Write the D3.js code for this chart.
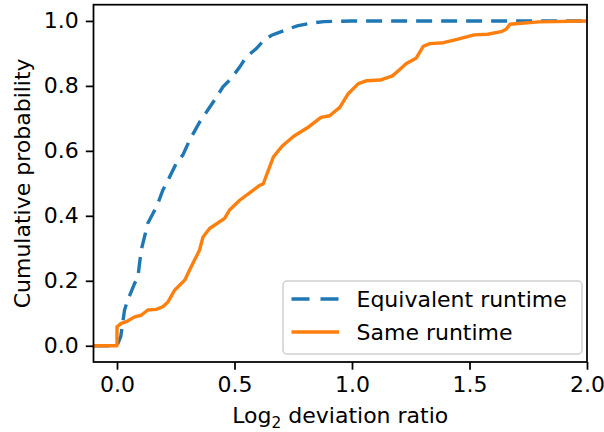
<!DOCTYPE html>
<html>
<head>
<meta charset="utf-8">
<script src="https://cdn.jsdelivr.net/npm/d3@7"></script>
<style>
  html, body { margin: 0; padding: 0; background: #fff; }
  svg { display: block; }
  text { font-family: "DejaVu Sans", sans-serif; fill: #000; }
</style>
</head>
<body>
<svg id="chart" width="604" height="432"></svg>
<script>
// ---- data ----
const equivX = [-0.1, 0.0, 0.016, 0.032, 0.046, 0.075, 0.089, 0.103, 0.117, 0.131, 0.153, 0.174, 0.195, 0.224, 0.252, 0.28, 0.309, 0.352, 0.415, 0.451, 0.486, 0.522, 0.55, 0.593, 0.622, 0.658, 0.709, 0.767, 0.824, 0.88, 1.0, 1.5, 2.0];
const equivY = [0.0, 0.0, 0.028, 0.11, 0.141, 0.192, 0.212, 0.294, 0.335, 0.377, 0.407, 0.438, 0.479, 0.52, 0.561, 0.587, 0.633, 0.689, 0.756, 0.797, 0.823, 0.858, 0.889, 0.915, 0.938, 0.956, 0.97, 0.985, 0.993, 0.998, 1.0, 1.0, 1.0];

const sameX = [-0.1, 0.0, 0.0, 0.018, 0.04, 0.075, 0.103, 0.131, 0.167, 0.195, 0.217, 0.245, 0.288, 0.309, 0.33, 0.351, 0.366, 0.394, 0.458, 0.479, 0.522, 0.607, 0.622, 0.666, 0.702, 0.752, 0.81, 0.868, 0.905, 0.948, 0.984, 1.027, 1.063, 1.12, 1.172, 1.201, 1.23, 1.274, 1.303, 1.332, 1.389, 1.447, 1.52, 1.577, 1.635, 1.657, 1.672, 1.722, 1.794, 2.0];
const sameY = [0.0, 0.0, 0.058, 0.069, 0.074, 0.089, 0.094, 0.11, 0.112, 0.12, 0.135, 0.171, 0.202, 0.233, 0.264, 0.294, 0.335, 0.361, 0.392, 0.418, 0.448, 0.494, 0.498, 0.582, 0.614, 0.645, 0.671, 0.703, 0.708, 0.734, 0.776, 0.807, 0.816, 0.818, 0.831, 0.849, 0.868, 0.886, 0.922, 0.93, 0.933, 0.943, 0.957, 0.959, 0.967, 0.975, 0.99, 0.993, 0.997, 1.0];

const xTicks = [0.0, 0.5, 1.0, 1.5, 2.0];
const yTicks = [0.0, 0.2, 0.4, 0.6, 0.8, 1.0];
const seriesNames = ["Equivalent runtime", "Same runtime"];
const seriesColors = ["#1f77b4", "#ff7f0e"];

// ---- layout ----
const svg = d3.select("#chart");
const mLeft = 93.5, mRight = 587, mTop = 4.7, mBottom = 362;
const x = d3.scaleLinear().domain([-0.1, 2.0]).range([mLeft, mRight]);
const y = d3.scaleLinear().domain([-0.05, 1.05]).range([mBottom, mTop]);
const FS = 22;

svg.append("clipPath").attr("id", "clip")
  .append("rect").attr("x", mLeft).attr("y", mTop).attr("width", mRight - mLeft).attr("height", mBottom - mTop);

const line = d3.line().x(d => x(d[0])).y(d => y(d[1])).curve(d3.curveLinear);

const plot = svg.append("g").attr("clip-path", "url(#clip)");
plot.append("path")
  .datum(equivX.map((v, i) => [v, equivY[i]]))
  .attr("d", line).attr("fill", "none")
  .attr("stroke", seriesColors[0]).attr("stroke-width", 3.4)
  .attr("stroke-dasharray", "16,9");
plot.append("path")
  .datum(sameX.map((v, i) => [v, sameY[i]]))
  .attr("d", line).attr("fill", "none")
  .attr("stroke", seriesColors[1]).attr("stroke-width", 3.4)
  .attr("stroke-linejoin", "round");

// axes
const xAxis = d3.axisBottom(x).tickValues(xTicks).tickFormat(d3.format(".1f")).tickSize(7.7).tickPadding(7);
const yAxis = d3.axisLeft(y).tickValues(yTicks).tickFormat(d3.format(".1f")).tickSize(7.7).tickPadding(7);

const gx = svg.append("g").attr("transform", `translate(0,${mBottom})`).call(xAxis);
const gy = svg.append("g").attr("transform", `translate(${mLeft},0)`).call(yAxis);
[gx, gy].forEach(g => {
  g.select(".domain").remove();
  g.selectAll(".tick line").attr("stroke", "#000").attr("stroke-width", 1.76);
  g.selectAll(".tick text").attr("font-size", FS).attr("font-family", "DejaVu Sans").attr("fill", "#000");
});

// frame
svg.append("rect").attr("x", mLeft).attr("y", mTop).attr("width", mRight - mLeft).attr("height", mBottom - mTop)
  .attr("fill", "none").attr("stroke", "#000").attr("stroke-width", 1.76);

// axis labels
const xl = svg.append("text").attr("x", (mLeft + mRight) / 2).attr("y", 423.3)
  .attr("text-anchor", "middle").attr("font-size", FS);
xl.append("tspan").text("Log");
xl.append("tspan").attr("font-size", FS * 0.7).attr("dy", 4.5).text("2");
xl.append("tspan").attr("dy", -4.5).text(" deviation ratio");

svg.append("text")
  .attr("transform", `translate(30,${(mTop + mBottom) / 2}) rotate(-90)`)
  .attr("text-anchor", "middle").attr("font-size", FS)
  .text("Cumulative probability");

// legend
const lg = svg.append("g");
lg.append("rect").attr("x", 283).attr("y", 281).attr("width", 299).attr("height", 73)
  .attr("rx", 4).attr("fill", "#fff").attr("fill-opacity", 0.8)
  .attr("stroke", "#d0d0d0").attr("stroke-width", 1.5);
const rows = [299, 332];
seriesNames.forEach((name, i) => {
  lg.append("line").attr("x1", 291.5).attr("x2", 339).attr("y1", rows[i]).attr("y2", rows[i])
    .attr("stroke", seriesColors[i]).attr("stroke-width", 3.4)
    .attr("stroke-dasharray", i === 0 ? "18,11" : null);
  lg.append("text").attr("x", 356.5).attr("y", rows[i]).attr("dy", "0.36em")
    .attr("font-size", FS).text(name);
});
</script>
</body>
</html>
